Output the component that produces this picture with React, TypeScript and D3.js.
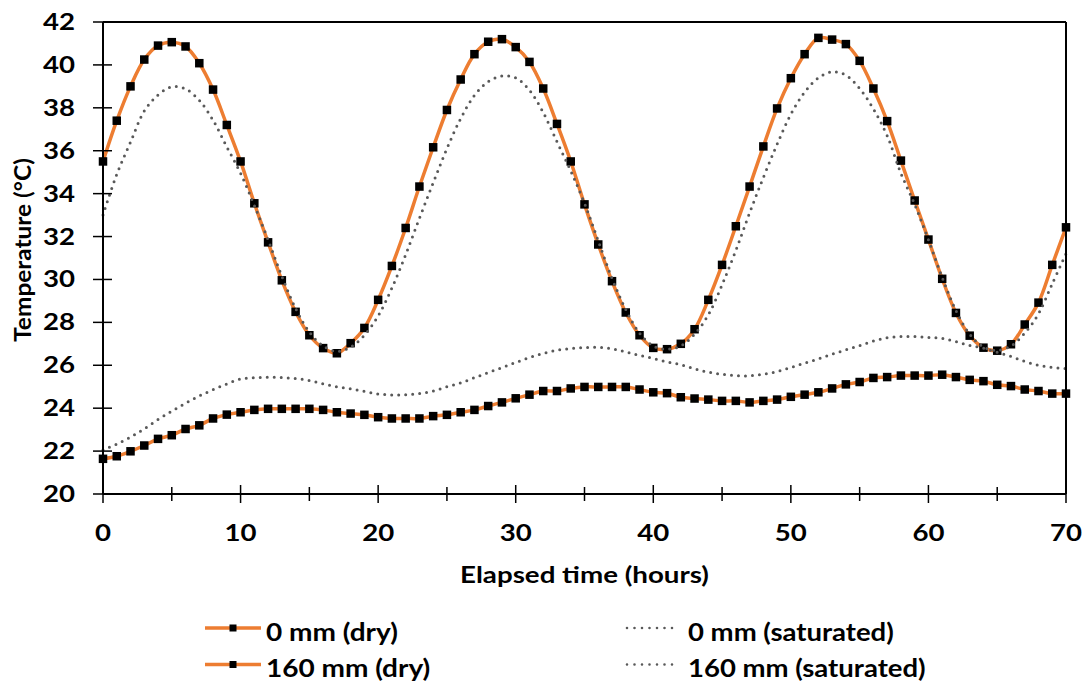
import React from "react";
import * as d3 from "d3";

const HOURS: number[] = d3.range(0, 71);

const TEMP_0_DRY = [
  35.5, 37.4, 39.0, 40.25, 40.9, 41.06, 40.86, 40.08, 38.85, 37.2, 35.5,
  33.55, 31.73, 29.96, 28.49, 27.4, 26.8, 26.56, 27.03, 27.74, 29.05,
  30.63, 32.4, 34.33, 36.16, 37.9, 39.32, 40.5, 41.08, 41.2, 40.83,
  40.14, 38.9, 37.25, 35.5, 33.5, 31.63, 29.92, 28.46, 27.4, 26.81,
  26.75, 27.0, 27.68, 29.05, 30.68, 32.48, 34.33, 36.2, 37.97, 39.38,
  40.5, 41.26, 41.18, 40.97, 40.19, 38.9, 37.38, 35.54, 33.68, 31.86,
  30.03, 28.44, 27.38, 26.82, 26.68, 26.98, 27.9, 28.92, 30.68, 32.43,
];

const TEMP_160_DRY = [
  21.64, 21.76, 21.99, 22.26, 22.57, 22.74, 23.03, 23.2, 23.52, 23.7, 23.81,
  23.92, 23.97, 23.97, 23.97, 23.97, 23.92, 23.81, 23.75, 23.69, 23.58,
  23.52, 23.52, 23.52, 23.63, 23.69, 23.81, 23.92, 24.1, 24.27, 24.46,
  24.63, 24.8, 24.8, 24.92, 24.99, 24.99, 24.99, 24.99, 24.87, 24.74,
  24.7, 24.51, 24.45, 24.4, 24.34, 24.34, 24.27, 24.34, 24.4, 24.53,
  24.63, 24.74, 24.92, 25.11, 25.22, 25.41, 25.45, 25.52, 25.52, 25.52,
  25.56, 25.45, 25.32, 25.26, 25.09, 25.03, 24.87, 24.8, 24.68, 24.68,
];

const TEMP_0_SAT = [
  33.0, 34.9, 36.4, 37.85, 38.6, 38.98, 38.88, 38.35, 37.42, 36.18, 34.95,
  33.45, 31.85, 30.15, 28.65, 27.55, 26.9, 26.65, 26.85, 27.4, 28.3,
  29.6, 31.15, 32.85, 34.5, 36.1, 37.5, 38.58, 39.22, 39.48, 39.4,
  38.82, 37.78, 36.42, 35.06, 33.55, 31.8, 30.05, 28.6, 27.5, 26.9,
  26.75, 26.9, 27.45, 28.35, 29.75, 31.35, 33.1, 34.75, 36.3, 37.7,
  38.73, 39.4, 39.68, 39.52, 38.9, 37.95, 36.7, 34.95, 33.5, 31.85,
  30.1, 28.55, 27.45, 26.85, 26.7, 26.9, 27.5, 28.4, 29.8, 31.2,
];

const TEMP_160_SAT = [
  22.05, 22.33, 22.65, 23.04, 23.47, 23.86, 24.23, 24.57, 24.86, 25.13, 25.36,
  25.42, 25.44, 25.43, 25.38, 25.29, 25.14, 25.0, 24.9, 24.78, 24.66,
  24.62, 24.63, 24.68, 24.8, 25.0, 25.18, 25.42, 25.66, 25.89, 26.13,
  26.36, 26.55, 26.7, 26.78, 26.82, 26.84, 26.77, 26.62, 26.46, 26.32,
  26.16, 26.03, 25.84, 25.68, 25.58, 25.52, 25.51, 25.58, 25.71, 25.9,
  26.1, 26.3, 26.52, 26.72, 26.92, 27.13, 27.28, 27.34, 27.34, 27.3,
  27.25, 27.1, 26.92, 26.8, 26.6, 26.41, 26.18, 26.0, 25.9, 25.85,
];

const Y_TICKS = [20, 22, 24, 26, 28, 30, 32, 34, 36, 38, 40, 42];
const X_MAJOR = [0, 10, 20, 30, 40, 50, 60, 70];
const X_MINOR = [5, 15, 25, 35, 45, 55, 65];

const SERIES_NAMES = ["0 mm (dry)", "160 mm (dry)", "0 mm (saturated)", "160 mm (saturated)"];
const X_TITLE = "Elapsed time (hours)";
const Y_TITLE = "Temperature (°C)";

const ORANGE = "#ED7D31";
const GRAY = "#595959";
const FONT = "Lato, 'Open Sans', sans-serif";

const W = 1089;
const H = 682;
const M = { left: 103, right: 1066, top: 22, bottom: 494 };

function SText(props: {
  x: number; y: number; size: number; sx?: number; anchor?: string; rotate?: number; children: React.ReactNode;
}) {
  const { x, y, size, sx = 1.2, anchor = "start", rotate = 0, children } = props;
  return (
    <text
      transform={`translate(${x},${y}) rotate(${rotate}) scale(${sx},1)`}
      textAnchor={anchor}
      fontFamily={FONT}
      fontWeight={700}
      fontSize={size}
      fill="#000"
    >
      {children}
    </text>
  );
}

export default function App() {
  const x = d3.scaleLinear().domain([0, 70]).range([M.left, M.right]);
  const y = d3.scaleLinear().domain([20, 42]).range([M.bottom, M.top]);

  const line = d3
    .line<number>()
    .x((_, i) => x(HOURS[i]))
    .y((d) => y(d))
    .curve(d3.curveCatmullRom.alpha(0.5));

  const sq = 8.5;
  const dotted = { stroke: GRAY, strokeWidth: 3, strokeDasharray: "0 7", strokeLinecap: "round" as const, fill: "none" };

  const legendRows = [628, 664.5];

  return (
    <svg width={W} height={H} style={{ position: "absolute", left: 0, top: 0, background: "#fff" }}>
      <rect x={0} y={0} width={W} height={H} fill="#fff" />

      {/* dry lines */}
      {[TEMP_0_DRY, TEMP_160_DRY].map((s, k) => (
        <g key={"dry" + k}>
          <path d={line(s) || ""} stroke={ORANGE} strokeWidth={3.5} fill="none" />
          {s.map((v, i) => (
            <rect key={i} x={x(HOURS[i]) - sq / 2} y={y(v) - sq / 2} width={sq} height={sq} fill="#000" />
          ))}
        </g>
      ))}

      {/* saturated lines */}
      {[TEMP_0_SAT, TEMP_160_SAT].map((s, k) => (
        <path key={"sat" + k} d={line(s) || ""} {...dotted} />
      ))}

      {/* frame */}
      <line x1={M.left} x2={M.right} y1={M.top} y2={M.top} stroke="#000" strokeWidth={2} />
      <line x1={M.right} x2={M.right} y1={M.top} y2={M.bottom} stroke="#000" strokeWidth={2} />
      <line x1={M.left} x2={M.left} y1={M.top} y2={M.bottom} stroke="#000" strokeWidth={2} />
      <line x1={M.left} x2={M.right} y1={M.bottom} y2={M.bottom} stroke="#000" strokeWidth={2} />

      {/* y ticks */}
      {Y_TICKS.map((t) => (
        <g key={"yt" + t}>
          <line x1={M.left - 10} x2={M.left + 9} y1={y(t)} y2={y(t)} stroke="#000" strokeWidth={1.5} />
          <SText x={75} y={y(t) + 8} size={23} anchor="end">{t}</SText>
        </g>
      ))}

      {/* x ticks */}
      {X_MAJOR.map((t) => (
        <g key={"xt" + t}>
          <line x1={x(t)} x2={x(t)} y1={M.bottom - 9} y2={M.bottom + 9} stroke="#000" strokeWidth={1.5} />
          <SText x={x(t)} y={541} size={23} anchor="middle">{t}</SText>
        </g>
      ))}
      {X_MINOR.map((t) => (
        <line key={"xm" + t} x1={x(t)} x2={x(t)} y1={M.bottom - 7} y2={M.bottom + 7} stroke="#000" strokeWidth={1.5} />
      ))}

      {/* axis titles */}
      <SText x={(M.left + M.right) / 2} y={583} size={23.5} sx={1.18} anchor="middle">{X_TITLE}</SText>
      <SText x={31} y={250} size={23.5} sx={1.04} anchor="middle" rotate={-90}>{Y_TITLE}</SText>

      {/* legend */}
      {[0, 1].map((r) => (
        <g key={"ld" + r}>
          <line x1={205} x2={261} y1={legendRows[r]} y2={legendRows[r]} stroke={ORANGE} strokeWidth={3.5} />
          <rect x={233 - 3.5} y={legendRows[r] - 3.5} width={7} height={7} fill="#000" />
          <SText x={266} y={legendRows[r] + 12.5} size={25} sx={1.12}>{SERIES_NAMES[r]}</SText>
        </g>
      ))}
      {[0, 1].map((r) => (
        <g key={"ls" + r}>
          <line x1={627} x2={673} y1={legendRows[r]} y2={legendRows[r]} stroke={GRAY} strokeWidth={2.6} strokeDasharray="0 7.5" strokeLinecap="round" />
          <SText x={688} y={legendRows[r] + 12.5} size={25} sx={1.1}>{SERIES_NAMES[r + 2]}</SText>
        </g>
      ))}
    </svg>
  );
}
